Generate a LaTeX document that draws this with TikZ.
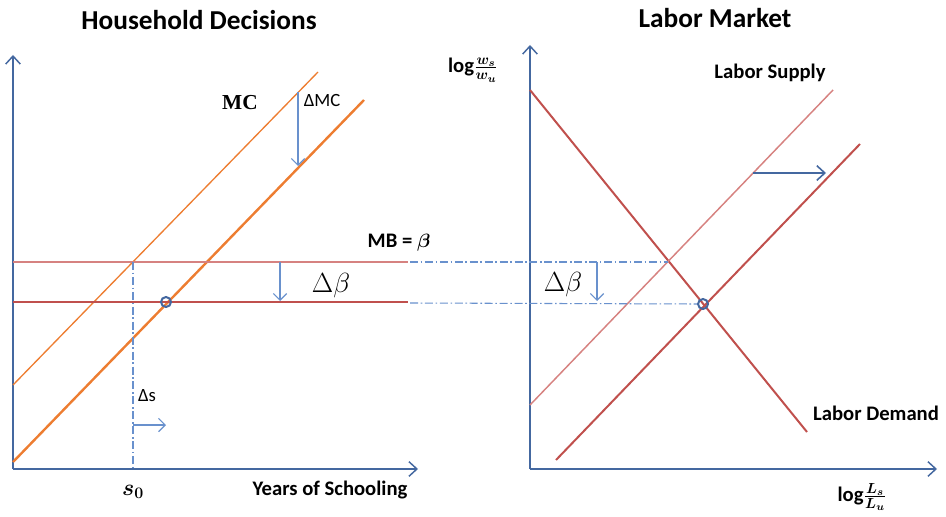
\documentclass[tikz,border=0pt]{standalone}
\usepackage{amsmath}
\usepackage{fontspec}
\setmainfont{Carlito}
\newfontfamily\mcfont{Liberation Serif}
\usetikzlibrary{arrows.meta}
\definecolor{axisblue}{RGB}{68,104,160}
\definecolor{mcorange}{RGB}{237,125,49}
\definecolor{mbred}{RGB}{192,80,77}
\definecolor{mbpale}{RGB}{214,130,128}
\definecolor{guideblue}{RGB}{105,145,205}

\begin{document}
\begin{tikzpicture}[
  x=0.75pt, y=-0.75pt,
  axis/.style={draw=axisblue, line width=1.1pt, -{Straight Barb[length=6pt,width=11pt]}},
  shiftarrow/.style={draw=guideblue, line width=0.9pt, -{Straight Barb[length=5pt,width=10pt]}},
  guide/.style={draw=guideblue, line width=0.8pt, dash pattern=on 6pt off 2pt on 1.2pt off 2pt},
  title/.style={font=\fontsize{20.5}{23}\selectfont\bfseries},
  lbl/.style={font=\fontsize{15.5}{18}\selectfont\bfseries},
  eqpoint/.style={circle, draw=axisblue, line width=1.5pt, inner sep=0pt, minimum size=7.5pt}
]
  \useasboundingbox (0,0) rectangle (946,517);

  % household decisions
  \node[title] (hdtitle) at (199,20) {Household Decisions};
  \coordinate (o1) at (13,469);
  \coordinate (y1) at (13,55);
  \coordinate (x1) at (418,469);
  \draw[axis] (o1) -- (y1);
  \draw[axis] (o1) -- (x1);

  \coordinate (mc0) at (13,385);
  \coordinate (mc1) at (318,72);
  \coordinate (mcb0) at (13,462);
  \coordinate (mcb1) at (364,100);
  \draw[mcorange, line width=1pt] (mc0) -- (mc1);
  \draw[mcorange, line width=1.8pt] (mcb0) -- (mcb1);

  \coordinate (mb0) at (13,262);
  \coordinate (mb1) at (408,262);
  \coordinate (mbn0) at (13,302);
  \coordinate (mbn1) at (408,302);
  \draw[mbpale, line width=1.1pt] (mb0) -- (mb1);
  \draw[mbred, line width=1.5pt] (mbn0) -- (mbn1);

  \coordinate (s0top) at (133,262);
  \coordinate (s0bot) at (133,469);
  \draw[guide] (s0top) -- (s0bot);

  \coordinate (dmc0) at (298,92);
  \coordinate (dmc1) at (298,166);
  \draw[shiftarrow] (dmc0) -- (dmc1);
  \coordinate (db0) at (280,262);
  \coordinate (db1) at (280,301);
  \draw[shiftarrow] (db0) -- (db1);
  \coordinate (ds0) at (133,425);
  \coordinate (ds1) at (166,425);
  \draw[shiftarrow] (ds0) -- (ds1);

  \node[font=\mcfont\bfseries\fontsize{16}{18}\selectfont] (mclab) at (240,103) {MC};
  \node[font=\fontsize{14}{16}\selectfont] (dmclab) at (322,101) {ΔMC};
  \node[lbl, anchor=west] (mblab) at (363,243) {MB = $\boldsymbol{\beta}$};
  \node[font=\fontsize{21}{23}\selectfont] (dblabl) at (331,286) {$\Delta\beta$};
  \node[font=\fontsize{14}{16}\selectfont] (dslab) at (147,396) {Δs};
  \node[font=\fontsize{18}{20}\selectfont] (s0lab) at (133,492) {$\boldsymbol{s_0}$};
  \node[lbl] (yslab) at (330,490) {Years of Schooling};
  \node[eqpoint] (eql) at (166,302) {};

  % labor market
  \node[title] (lmtitle) at (715,18) {Labor Market};
  \coordinate (o2) at (530,469);
  \coordinate (y2) at (530,45);
  \coordinate (x2) at (937,469);
  \draw[axis] (o2) -- (y2);
  \draw[axis] (o2) -- (x2);

  \coordinate (ld0) at (530,90);
  \coordinate (ld1) at (807,432);
  \coordinate (ls0) at (530,405);
  \coordinate (ls1) at (833,90);
  \coordinate (lsb0) at (556,460);
  \coordinate (lsb1) at (860,144);
  \draw[mbred, line width=1.5pt] (ld0) -- (ld1);
  \draw[mbpale, line width=1.1pt] (ls0) -- (ls1);
  \draw[mbred, line width=1.5pt] (lsb0) -- (lsb1);

  \node[eqpoint] (eqr) at (703,304) {};
  \coordinate (g1) at (668,262);
  \coordinate (mb2) at (410,262);
  \coordinate (mbn2) at (410,303);
  \draw[guide] (mb2) -- (g1);
  \draw[guide] (mbn2) -- (eqr.west);

  \coordinate (db2) at (597,262);
  \coordinate (db3) at (597,301);
  \draw[shiftarrow] (db2) -- (db3);
  \coordinate (sh0) at (753,173);
  \coordinate (sh1) at (826,173);
  \draw[axis, line width=1.2pt] (sh0) -- (sh1);

  \node[font=\fontsize{21}{23}\selectfont] (dblabr) at (563,285) {$\Delta\beta$};
  \node[lbl] (wlab) at (473,70) {log$\boldsymbol{\frac{w_s}{w_u}}$};
  \node[lbl] (llab) at (862,497) {log$\boldsymbol{\frac{L_s}{L_u}}$};
  \node[lbl] (lslab) at (770,73) {Labor Supply};
  \node[lbl] (ldlab) at (876,413) {Labor Demand};
\end{tikzpicture}
\end{document}
